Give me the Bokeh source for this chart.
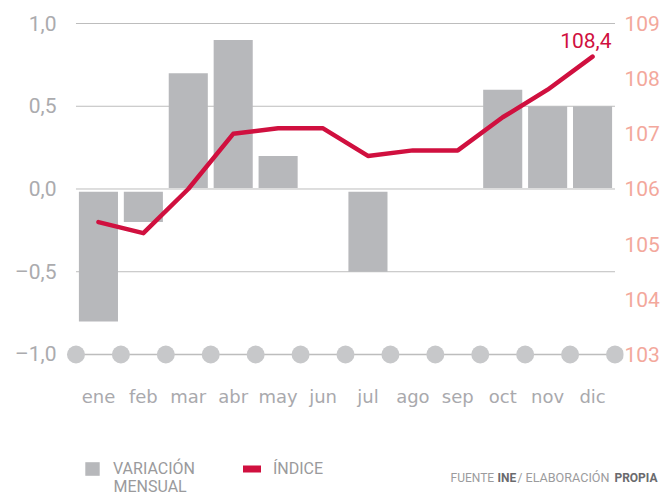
from bokeh.plotting import figure
from bokeh.models import (Range1d, LinearAxis, FixedTicker, Label, Legend, LegendItem,
                          CustomJSTickFormatter)
from bokeh.core.properties import value
from bokeh.embed import file_html
from bokeh.resources import INLINE

months = ["ene", "feb", "mar", "abr", "may", "jun", "jul", "ago", "sep", "oct", "nov", "dic"]
variacion = [-0.8, -0.2, 0.7, 0.9, 0.2, 0.0, -0.5, 0.0, 0.0, 0.6, 0.5, 0.5]
indice = [105.4, 105.2, 106.0, 107.0, 107.1, 107.1, 106.6, 106.7, 106.7, 107.3, 107.8, 108.4]
left_ticks = [-1.0, -0.5, 0.0, 0.5, 1.0]
right_ticks = [103, 104, 105, 106, 107, 108, 109]

GREY_TXT = "#ABABAE"
BAR = "#B7B8BB"
RED = "#D0103F"
SALMON = "#F3A89C"
GRID = "#BDBDBD"
DOT = "#C7C8CA"
LEG_TXT = "#9A9A9C"

x = list(range(len(months)))
bounds = [i - 0.5 for i in range(len(months) + 1)]
# small visual gap between bars and the zero line (style only)
bar_bottom = [0.006 if v > 0 else (-0.016 if v < 0 else 0.0) for v in variacion]


def clean_axis(ax):
    ax.axis_line_color = None
    ax.major_tick_line_color = None
    ax.minor_tick_line_color = None
    ax.major_tick_out = 0
    ax.major_tick_in = 0
    ax.minor_tick_out = 0
    ax.minor_tick_in = 0


p = figure(width=662, height=440, output_backend="svg", toolbar_location=None,
           x_range=Range1d(-0.7111, 11.689), y_range=Range1d(-1.0665, 1.0544),
           min_border_left=66, min_border_right=38, min_border_top=14, min_border_bottom=75)
p.extra_y_ranges = {"idx": Range1d(106 + 3 * -1.0665, 106 + 3 * 1.0544)}
p.outline_line_color = None
p.grid.visible = False

# axes
xa = p.xaxis[0]
clean_axis(xa)
xa.ticker = FixedTicker(ticks=x)
xa.formatter = CustomJSTickFormatter(args=dict(m=months), code="return m[Math.round(tick)]")
xa.major_label_text_font = "DejaVu Sans"
xa.major_label_text_font_size = "18px"
xa.major_label_text_color = "#A9A9AD"
xa.major_label_standoff = 20

ya = p.yaxis[0]
clean_axis(ya)
ya.ticker = FixedTicker(ticks=left_ticks)
ya.formatter = CustomJSTickFormatter(code="return tick.toFixed(1).replace('.', ',').replace('-', '\u2013')")
ya.major_label_text_font = "Roboto"
ya.major_label_text_font_size = "21px"
ya.major_label_text_color = GREY_TXT
ya.major_label_standoff = 10

ra = LinearAxis(y_range_name="idx", ticker=FixedTicker(ticks=right_ticks))
clean_axis(ra)
ra.major_label_text_font = "Roboto"
ra.major_label_text_font_size = "21px"
ra.major_label_text_color = SALMON
ra.major_label_standoff = 1
p.add_layout(ra, "right")

# grid lines
g = left_ticks[1:]
p.segment(x0=[bounds[0]] * len(g), x1=[bounds[-1]] * len(g), y0=g, y1=g,
          line_color=GRID, line_width=1)
# baseline with dots
p.segment(x0=[bounds[0]], x1=[bounds[-1]], y0=[left_ticks[0]], y1=[left_ticks[0]],
          line_color=GRID, line_width=1.5)
p.scatter(x=bounds, y=[left_ticks[0]] * len(bounds), size=18, fill_color=DOT, line_color=None)

# bars
p.vbar(x=x, top=variacion, bottom=bar_bottom, width=0.87, fill_color=BAR, line_color=None)

# index line
p.line(x=x, y=indice, y_range_name="idx", line_color=RED, line_width=4.5,
       line_cap="round", line_join="round")

last = f"{indice[-1]:.1f}".replace(".", ",")
p.text(x=[x[-1]], y=[indice[-1]], text=[last], y_range_name="idx",
       text_font=value("Roboto"), text_font_size="21px",
       text_color=RED, text_align="right", text_baseline="alphabetic",
       x_offset=19, y_offset=-16)

# ---- bottom strip: legend + source ----
q = figure(width=662, height=56, output_backend="svg", toolbar_location=None,
           x_axis_location=None, y_axis_location=None,
           x_range=Range1d(0, 1), y_range=Range1d(0, 1),
           min_border=0, min_border_left=0, min_border_right=0,
           min_border_top=0, min_border_bottom=0)
q.outline_line_color = None
q.grid.visible = False
r_bar = q.vbar(x=[0], top=[0], width=0.5, fill_color=BAR, line_color=None, visible=False)
r_leg = q.line(x=[0, 0], y=[0, 0], line_color=RED, line_width=7, line_cap="round", visible=False)

legend = Legend(items=[LegendItem(label="VARIACIÓN", renderers=[r_bar]),
                       LegendItem(label="ÍNDICE", renderers=[r_leg])],
                orientation="horizontal", location=(83, 18),
                padding=0, margin=0, spacing=48, label_standoff=12,
                glyph_width=18, glyph_height=17,
                border_line_color=None, background_fill_alpha=0,
                inactive_fill_alpha=0,
                label_text_font="Roboto", label_text_font_size="16px",
                label_text_color=LEG_TXT)
q.add_layout(legend, "center")
q.add_layout(Label(x=113, y=10, x_units="screen", y_units="screen", text="MENSUAL",
                   text_font="Roboto", text_font_size="16px", text_color=LEG_TXT,
                   text_baseline="alphabetic"))

src_parts = [("FUENTE", "#9B9B9D", "normal", 450, "left"),
             ("INE", "#6A6A6D", "bold", 497, "left"),
             ("/", "#9B9B9D", "normal", 517, "left"),
             ("ELABORACIÓN", "#9B9B9D", "normal", 525, "left"),
             ("PROPIA", "#6A6A6D", "bold", 657, "right")]
for t, c, w, px, al in src_parts:
    fs = "12.6px" if t == "ELABORACIÓN" else "12px"
    q.add_layout(Label(x=px, y=19, x_units="screen", y_units="screen", text=t,
                       text_font="Roboto", text_font_size=fs, text_color=c,
                       text_font_style=w, text_baseline="alphabetic", text_align=al))

open("out.html", "w").write(file_html((p, q), INLINE))
